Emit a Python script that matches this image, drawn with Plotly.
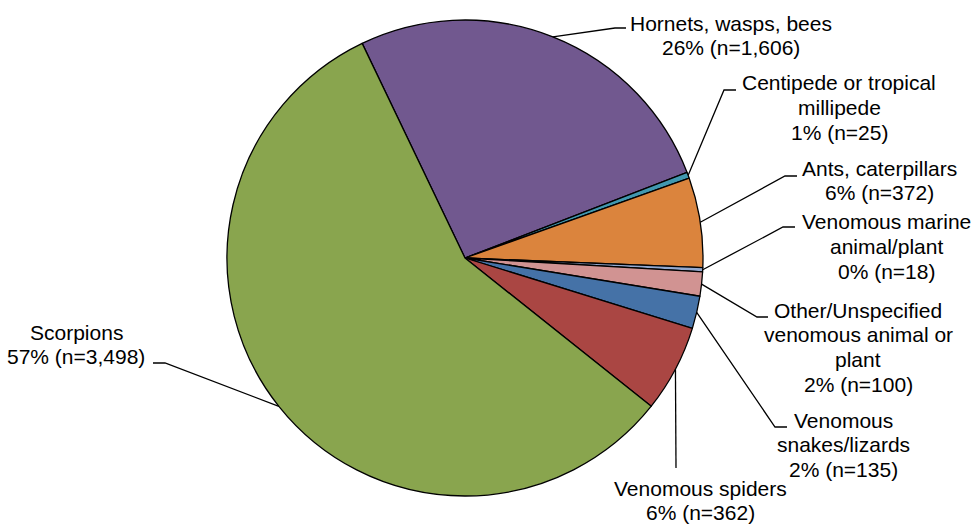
import math
import plotly.graph_objects as go

# Venomous animal / plant exposures by type
categories = [
    "Hornets, wasps, bees",
    "Centipede or tropical millipede",
    "Ants, caterpillars",
    "Venomous marine animal/plant",
    "Other/Unspecified venomous animal or plant",
    "Venomous snakes/lizards",
    "Venomous spiders",
    "Scorpions",
]
counts = [1606, 25, 372, 18, 100, 135, 362, 3498]
pct_labels = ["26%", "1%", "6%", "0%", "2%", "2%", "6%", "57%"]
label_lines = [
    ["Hornets, wasps, bees"],
    ["Centipede or tropical", "millipede"],
    ["Ants, caterpillars"],
    ["Venomous marine", "animal/plant"],
    ["Other/Unspecified", "venomous animal or", "plant"],
    ["Venomous", "snakes/lizards"],
    ["Venomous spiders"],
    ["Scorpions"],
]
colors = ["#71588F", "#4198AF", "#DB843D", "#93A9CF",
          "#D19392", "#4572A7", "#AA4643", "#89A54E"]

# canvas and pie geometry (pixels)
W, H = 974, 525
CX, CY, R = 465, 258, 238
ROTATION = -25.6
FONT = "Liberation Sans, Arial, sans-serif"
FONT_SIZE = 21
LINE_GAP = 24.8

# label block placement: centre x, first-line centre y
label_pos = [(731, 23), (839, 83), (879, 168), (886, 222),
             (858, 310), (843, 420), (700, 488), (76, 332)]
# leader line elbow and end points
leader_elbow = [(615, 28), (724, 90), (785, 176), (783, 227),
                (757, 317), (775, 427), None, (165, 363)]
leader_end = [(626, 28), (736, 90), (797, 176), (795, 227),
              (768, 317), (787, 427), (676, 468), (153, 363)]


def px(x):
    return x / W


def py(y):
    return 1 - y / H


fig = go.Figure(
    go.Pie(
        labels=categories,
        values=counts,
        sort=False,
        direction="clockwise",
        rotation=ROTATION,
        marker=dict(colors=colors, line=dict(color="black", width=1.3)),
        textinfo="none",
        hoverinfo="label+value+percent",
        showlegend=False,
        domain=dict(x=[px(CX - R), px(CX + R)], y=[py(CY + R), py(CY - R)]),
    )
)

total = sum(counts)
shapes = []
annotations = []
cum = 0.0
for i, n in enumerate(counts):
    mid = ROTATION + 360.0 * (cum + n / 2.0) / total
    cum += n
    a = math.radians(mid)
    sx = CX + R * math.sin(a)
    sy = CY - R * math.cos(a)
    pts = [(sx, sy)]
    if leader_elbow[i] is not None:
        pts.append(leader_elbow[i])
    pts.append(leader_end[i])
    path = "M " + " L ".join(f"{px(x):.5f},{py(y):.5f}" for x, y in pts)
    shapes.append(dict(type="path", path=path, xref="paper", yref="paper",
                       line=dict(color="black", width=1.3)))

    lines = label_lines[i] + [f"{pct_labels[i]} (n={n:,})"]
    lx, ly = label_pos[i]
    for j, t in enumerate(lines):
        annotations.append(dict(
            text=t, x=px(lx), y=py(ly + j * LINE_GAP), xref="paper", yref="paper",
            xanchor="center", yanchor="middle", showarrow=False,
            font=dict(family=FONT, size=FONT_SIZE, color="black"),
        ))

fig.update_layout(
    width=W, height=H,
    margin=dict(l=0, r=0, t=0, b=0),
    paper_bgcolor="white",
    plot_bgcolor="white",
    shapes=shapes,
    annotations=annotations,
    showlegend=False,
)

fig.write_html("out.html")
